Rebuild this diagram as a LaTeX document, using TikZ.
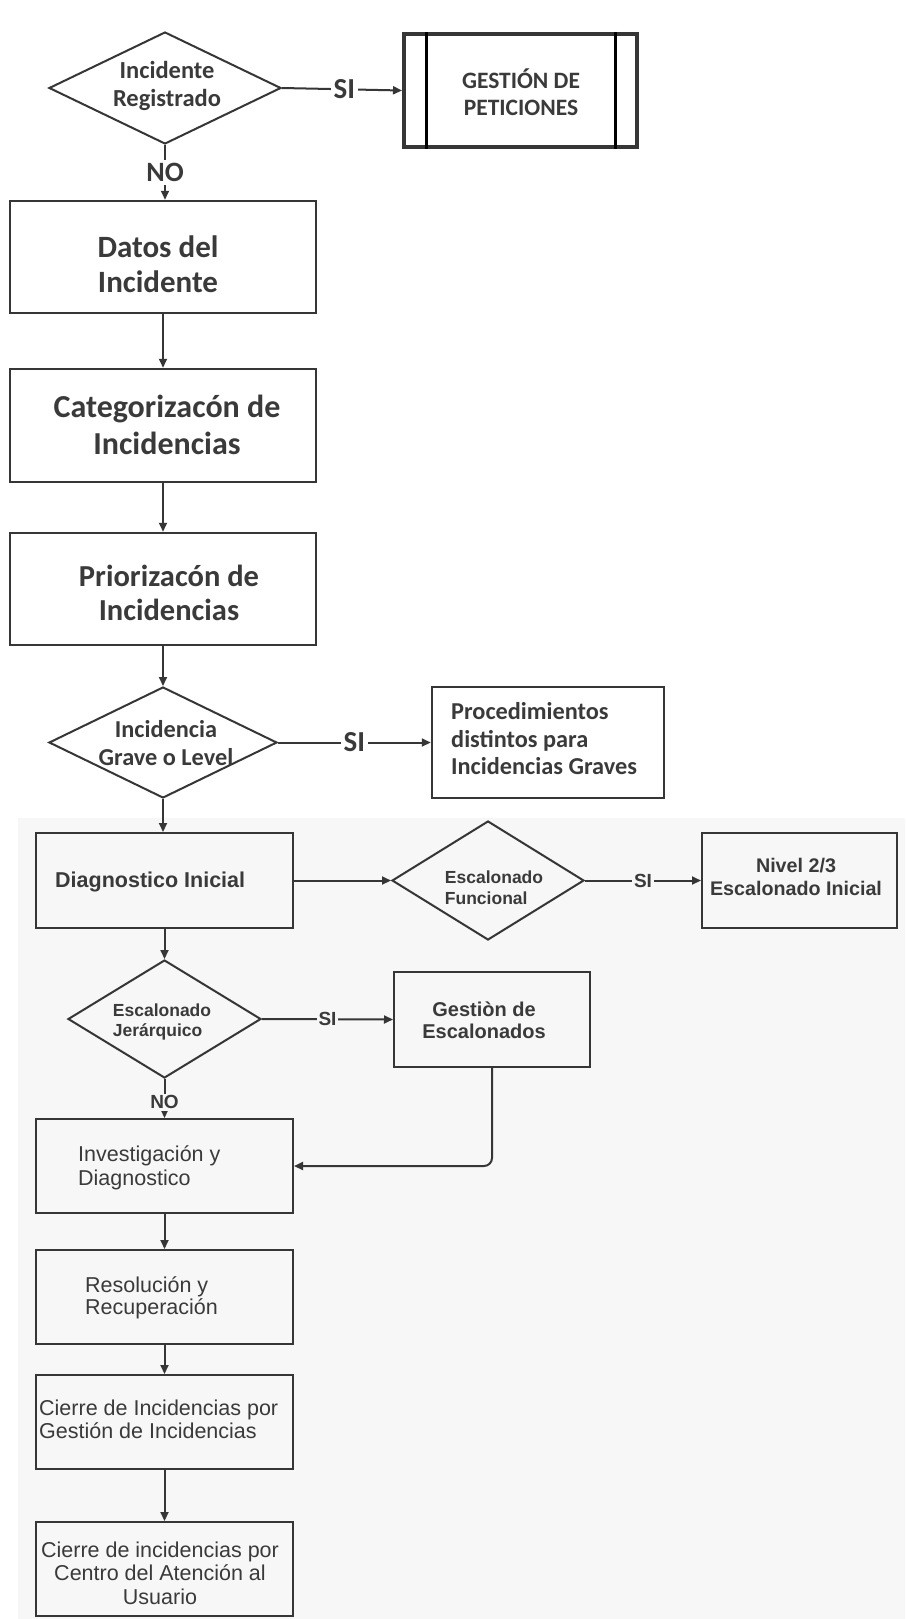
\documentclass[tikz,border=0pt]{standalone}
\usepackage{fontspec}
\usetikzlibrary{shapes.geometric,arrows.meta}
\newfontfamily\carlito{Carlito}
\newfontfamily\arial{Liberation Sans}
\newcommand\fsz[2]{\fontsize{#1}{#2}\selectfont}
\definecolor{ink}{HTML}{3A3A3A}
\definecolor{stroke}{HTML}{363636}
\definecolor{paper}{HTML}{F7F7F7}
\begin{document}
\begin{tikzpicture}[x=1pt,y=-1pt,
  tbox/.style={draw=stroke,line width=2.5pt,rectangle,inner sep=0pt},
  bbox/.style={draw=stroke,line width=2pt,rectangle,inner sep=0pt},
  dia/.style={draw=stroke,line width=2pt,diamond,inner sep=0pt},
  ttxt/.style={text=ink,align=center,inner sep=0pt,font=\carlito\bfseries},
  btxt/.style={text=ink,inner sep=0pt},
  arr/.style={draw=stroke,line width=2pt,-{Triangle[length=9pt,width=8pt]}},
  lbl/.style={text=ink,inner sep=3pt},
]
\useasboundingbox (0,0) rectangle (905,1619);
\fill[white] (0,0) rectangle (905,1619);
\fill[paper] (18,818) rectangle (905,1619);

% ---- upper part ----
\node[dia,minimum width=232,minimum height=112] (reg) at (165,88) {};
\node[ttxt,font=\carlito\bfseries\fsz{24.5}{28}] (regt) at (167,86) {Incidente\\Registrado};

\node[draw=stroke,line width=4pt,inner sep=0pt,minimum width=233,minimum height=113] (pet) at (520.5,90.5) {};
\draw[stroke,line width=3pt] ([xshift=24pt]pet.north west) -- ([xshift=24pt]pet.south west);
\draw[stroke,line width=3pt] ([xshift=-24pt]pet.north east) -- ([xshift=-24pt]pet.south east);
\node[ttxt,font=\carlito\bfseries\fsz{23.5}{27}] (pett) at (521,92) {GESTIÓN DE\\PETICIONES};

\node[tbox,minimum width=306,minimum height=112] (datos) at (163,257) {};
\node[ttxt,font=\carlito\bfseries\fsz{31}{35}] (datost) at (158,264) {Datos del\\Incidente};

\node[tbox,minimum width=306,minimum height=113] (cat) at (163,425.5) {};
\node[ttxt,font=\carlito\bfseries\fsz{32}{37}] (catt) at (167,425) {Categorizacón de\\Incidencias};

\node[tbox,minimum width=306,minimum height=112] (prio) at (163,589) {};
\node[ttxt,font=\carlito\bfseries\fsz{30.5}{34}] (priot) at (169,593) {Priorizacón de\\Incidencias};

\node[dia,minimum width=228,minimum height=111] (grave) at (163,742.5) {};
\node[ttxt,font=\carlito\bfseries\fsz{24.3}{28}] (gravet) at (166,743) {Incidencia\\Grave o Level};

\node[tbox,minimum width=232,minimum height=111] (proc) at (548,742.5) {};
\node[ttxt,align=left,anchor=west,font=\carlito\bfseries\fsz{24.3}{27.5}] (proct) at (451,739) {Procedimientos\\distintos para\\Incidencias Graves};

% ---- lower part ----
\node[bbox,minimum width=257,minimum height=95] (diag) at (164.5,880.5) {};
\node[btxt,anchor=west,font=\arial\bfseries\fsz{21.5}{24}] (diagt) at (55,882) {Diagnostico Inicial};

\node[dia,minimum width=192,minimum height=119] (func) at (488,880.5) {};
\node[btxt,align=left,font=\arial\bfseries\fsz{17.5}{21}] (funct) at (494,888) {Escalonado\\Funcional};

\node[bbox,minimum width=195,minimum height=95] (niv) at (799.5,880.5) {};
\node[btxt,align=center,font=\arial\bfseries\fsz{19.7}{23}] (nivt) at (796,877) {Nivel 2/3\\Escalonado Inicial};

\node[dia,minimum width=193,minimum height=118] (jer) at (164.5,1019) {};
\node[btxt,align=left,font=\arial\bfseries\fsz{17.5}{20}] (jert) at (162,1022) {Escalonado\\Jerárquico};

\node[bbox,minimum width=196,minimum height=95] (gesc) at (492,1019.5) {};
\node[btxt,align=center,font=\arial\bfseries\fsz{20}{22}] (gesct) at (484,1020) {Gestiòn de\\Escalonados};

\node[bbox,minimum width=257,minimum height=94] (inv) at (164.5,1166) {};
\node[btxt,align=left,anchor=west,font=\arial\fsz{21.5}{24}] (invt) at (78,1168) {Investigación y\\Diagnostico};

\node[bbox,minimum width=257,minimum height=94] (res) at (164.5,1297) {};
\node[btxt,align=left,anchor=west,font=\arial\fsz{21.5}{22}] (rest) at (85,1298) {Resolución y\\Recuperación};

\node[bbox,minimum width=257,minimum height=94] (cie1) at (164.5,1422) {};
\node[btxt,align=left,anchor=west,font=\arial\fsz{21.5}{23}] (cie1t) at (39,1419) {Cierre de Incidencias por\\Gestión de Incidencias};

\node[bbox,minimum width=257,minimum height=94] (cie2) at (164.5,1569) {};
\node[btxt,align=center,font=\arial\fsz{21.5}{23.5}] (cie2t) at (160,1573) {Cierre de incidencias por\\Centro del Atención al\\Usuario};

% ---- connectors ----
\draw[arr] (reg.east) -- node[lbl,fill=white,pos=0.52,font=\carlito\bfseries\fsz{29}{29}] (si1) {SI} (pet.west);
\draw[arr] (reg.south) -- node[lbl,fill=white,font=\carlito\bfseries\fsz{28}{28}] (no1) {NO} (reg.south |- datos.north);
\draw[arr] (datos.south) -- (cat.north);
\draw[arr] (cat.south) -- (prio.north);
\draw[arr] (prio.south) -- (grave.north);
\draw[arr] (grave.east) -- node[lbl,fill=white,font=\carlito\bfseries\fsz{29}{29}] (si2) {SI} (proc.west);
\draw[arr] (grave.south) -- (grave.south |- diag.north);
\draw[arr] (diag.east) -- (func.west);
\draw[arr] (func.east) -- node[lbl,fill=paper,inner sep=2pt,font=\arial\bfseries\fsz{19}{19}] (si3) {SI} (niv.west);
\draw[arr] (diag.south) -- (jer.north);
\draw[arr] (jer.east) -- node[lbl,fill=paper,inner sep=2pt,font=\arial\bfseries\fsz{19}{19}] (si4) {SI} (gesc.west);
\draw[arr] (jer.south) -- node[lbl,fill=paper,inner sep=2pt,pos=0.6,font=\arial\bfseries\fsz{19}{19}] (no2) {NO} (inv.north);
\draw[arr,rounded corners=8pt] (gesc.south) |- (inv.east);
\draw[arr] (inv.south) -- (res.north);
\draw[arr] (res.south) -- (cie1.north);
\draw[arr] (cie1.south) -- (cie2.north);
\end{tikzpicture}
\end{document}
